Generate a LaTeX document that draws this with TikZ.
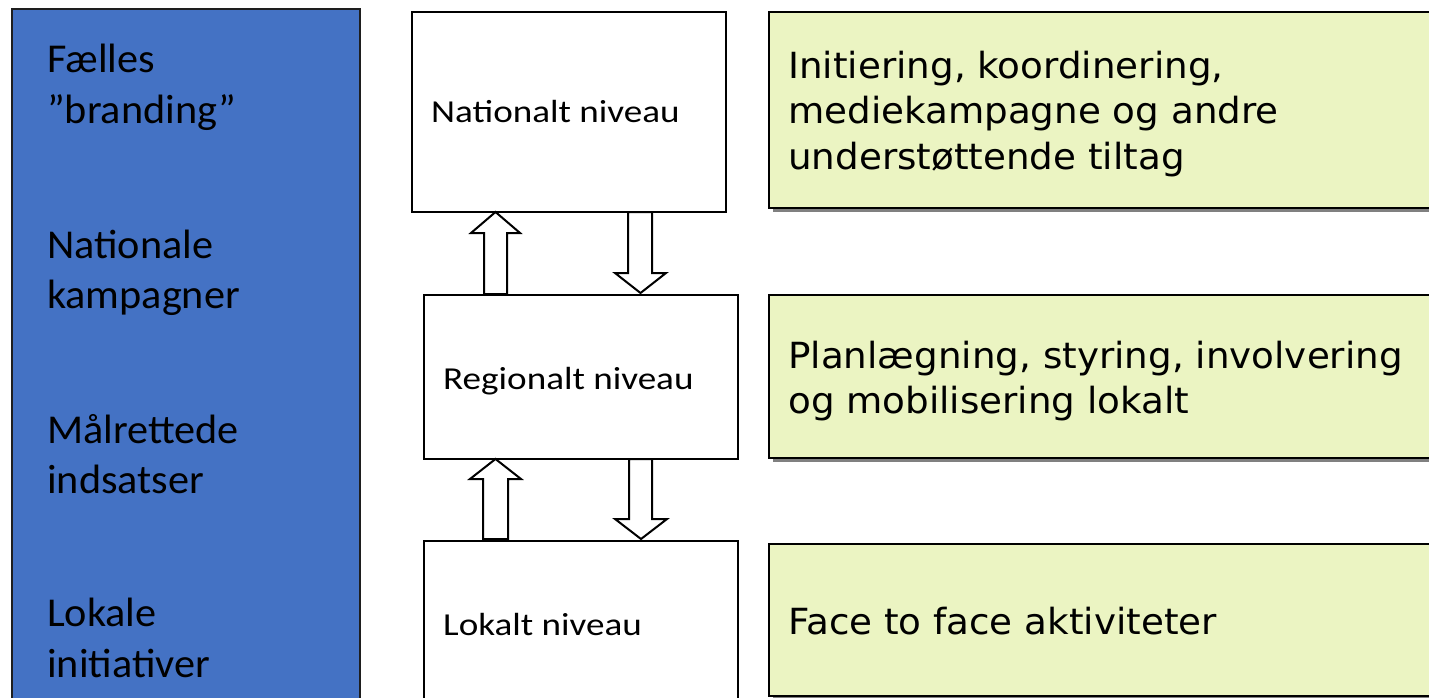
\documentclass[tikz,border=0pt]{standalone}
\usepackage{fontspec}
\setmainfont{Carlito}
\newfontfamily\panelfont[FakeStretch=1.03]{Carlito}
\newfontfamily\greenfont[FakeStretch=1.035]{DejaVu Sans}
\newfontfamily\boxfont[FakeStretch=1.16]{Carlito}
\definecolor{panelblue}{RGB}{68,114,196}
\definecolor{notegreen}{RGB}{235,244,194}
\definecolor{shadowgray}{RGB}{128,128,128}
\definecolor{edgedark}{RGB}{30,30,30}
\usetikzlibrary{shadows}
\tikzset{
  panel/.style={rectangle, draw=edgedark, line width=2pt, fill=panelblue, anchor=north west, inner sep=0pt},
  levelbox/.style={rectangle, draw=black, line width=2pt, fill=white, anchor=north west, inner sep=0pt},
  notebox/.style={rectangle, draw=black, line width=2pt, fill=notegreen, anchor=north west, inner sep=0pt,
     drop shadow={shadow xshift=4pt, shadow yshift=-4pt, fill=shadowgray, opacity=1}},
  paneltext/.style={anchor=base west, inner sep=0pt, font=\panelfont\fontsize{41}{49}\selectfont},
  leveltext/.style={anchor=base west, inner sep=0pt, font=\boxfont\fontsize{32}{38}\selectfont},
  notetext/.style={anchor=base west, inner sep=0pt, font=\greenfont\fontsize{36}{45}\selectfont},
  blockarrow/.style={draw=black, fill=white, line width=2pt, line join=miter}
}
\begin{document}
\begin{tikzpicture}[x=1pt,y=-1pt]
\useasboundingbox (0,0) rectangle (1429,698);
\clip (0,0) rectangle (1429,698);

% left panel
\node[panel, minimum width=348pt, minimum height=720pt] (panel) at (11,8) {};
\node[paneltext] (p1a) at (47,73) {Fælles};
\node[paneltext] (p1b) at (47,124) {”branding”};
\node[paneltext] (p2a) at (47,258) {Nationale};
\node[paneltext] (p2b) at (47,308) {kampagner};
\node[paneltext] (p3a) at (47,443) {Målrettede};
\node[paneltext] (p3b) at (47,493) {indsatser};
\node[paneltext] (p4a) at (47,626) {Lokale};
\node[paneltext] (p4b) at (47,677) {initiativer};

% level boxes
\node[levelbox, minimum width=314pt, minimum height=200pt] (nat) at (411,11) {};
\node[levelbox, minimum width=314pt, minimum height=164pt] (reg) at (423,294) {};
\node[levelbox, minimum width=314pt, minimum height=180pt] (lok) at (423,540) {};
\node[leveltext] (natt) at (431,123) {Nationalt niveau};
\node[leveltext] (regt) at (443,389) {Regionalt niveau};
\node[leveltext] (lokt) at (443,635) {Lokalt niveau};

% block arrows
\draw[blockarrow] (484,294) -- (484,233) -- (471,233) -- (495.5,212) -- (520,233) -- (507,233) -- (507,294) -- cycle;
\draw[blockarrow] (628,212) -- (628,273) -- (615,273) -- (640.5,293) -- (666,273) -- (652,273) -- (652,212) -- cycle;
\draw[blockarrow] (483,539) -- (483,479) -- (470,479) -- (495.5,459) -- (521,479) -- (508,479) -- (508,539) -- cycle;
\draw[blockarrow] (629,459) -- (629,519) -- (615,519) -- (641,539) -- (667,519) -- (652,519) -- (652,459) -- cycle;

% note boxes
\node[notebox, minimum width=672pt, minimum height=196pt] (g1) at (768,11) {};
\node[notebox, minimum width=672pt, minimum height=163pt] (g2) at (768,294) {};
\node[notebox, minimum width=672pt, minimum height=152pt] (g3) at (768,543) {};
\node[notetext] (g1a) at (788,79) {Initiering, koordinering,};
\node[notetext] (g1b) at (788,124) {mediekampagne og andre};
\node[notetext] (g1c) at (788,169) {understøttende tiltag};
\node[notetext] (g2a) at (788,368) {Planlægning, styring, involvering};
\node[notetext] (g2b) at (788,413) {og mobilisering lokalt};
\node[notetext] (g3a) at (788,634) {Face to face aktiviteter};
\end{tikzpicture}
\end{document}
